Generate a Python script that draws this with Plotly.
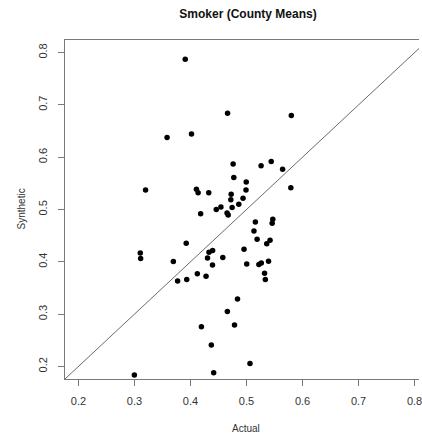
import plotly.graph_objects as go

actual = [0.3906, 0.4662, 0.3582, 0.4018, 0.4761, 0.4773, 0.3198, 0.4106, 0.4136, 0.4326,
          0.4726, 0.4720, 0.4743, 0.4862, 0.4938, 0.4543, 0.4460, 0.4653, 0.4673, 0.4181,
          0.5800, 0.5260, 0.5441, 0.5644, 0.4995, 0.4991, 0.5791, 0.5158, 0.5469, 0.5458,
          0.5133, 0.5189, 0.5420, 0.5361, 0.4956, 0.5004, 0.5221, 0.5264, 0.5393, 0.5322,
          0.5336, 0.3924, 0.3104, 0.3110, 0.3694, 0.4331, 0.4395, 0.4304, 0.4577, 0.4393,
          0.4122, 0.4278, 0.3770, 0.3933, 0.4839, 0.4658, 0.4195, 0.4786, 0.4372, 0.2998,
          0.4414, 0.5062]
synthetic = [0.7872, 0.6842, 0.6378, 0.6441, 0.5868, 0.5611, 0.5372, 0.5386, 0.5319, 0.5319,
             0.5290, 0.5185, 0.5038, 0.5099, 0.5216, 0.5048, 0.5000, 0.4933, 0.4895, 0.4920,
             0.6798, 0.5836, 0.5916, 0.5767, 0.5525, 0.5372, 0.5416, 0.4761, 0.4815, 0.4737,
             0.4590, 0.4431, 0.4414, 0.4347, 0.4240, 0.3960, 0.3947, 0.3975, 0.4010, 0.3782,
             0.3664, 0.4355, 0.4170, 0.4061, 0.4008, 0.4183, 0.4214, 0.4074, 0.4084, 0.3941,
             0.3773, 0.3725, 0.3635, 0.3664, 0.3288, 0.3048, 0.2758, 0.2792, 0.2408, 0.1836,
             0.1880, 0.2057]
tick_vals = [0.2, 0.3, 0.4, 0.5, 0.6, 0.7, 0.8]
tick_text = ["0.2", "0.3", "0.4", "0.5", "0.6", "0.7", "0.8"]
diag = [0.0, 1.0]

FONT = "Liberation Sans, Arial, sans-serif"
AX = "#7a7a7a"

fig = go.Figure()
fig.add_trace(go.Scatter(x=diag, y=diag, mode="lines",
                         line=dict(color="#6a6a6a", width=1), hoverinfo="skip"))
fig.add_trace(go.Scatter(x=actual, y=synthetic, mode="markers",
                         marker=dict(color="black", size=5.5, line=dict(width=0))))

fig.update_layout(
    width=422, height=435,
    margin=dict(l=65, r=0, t=40, b=56),
    paper_bgcolor="white", plot_bgcolor="white",
    showlegend=False,
    font=dict(family=FONT, color="#333333", size=11),
    title=dict(text="<b>Smoker (County Means)</b>", font=dict(size=12, color="#111111", family=FONT),
               x=248/422, xref="container", xanchor="center",
               y=1-14/435, yref="container", yanchor="middle"),
    xaxis=dict(range=[0.176, 0.8079], showgrid=False, zeroline=False,
               showline=True, linecolor=AX, linewidth=1.3, mirror=True,
               ticks="outside", ticklen=6, tickcolor=AX, tickwidth=1.2,
               tickvals=tick_vals, ticktext=tick_text, ticklabelstandoff=6,
               ticklabeloverflow="allow",
               tickfont=dict(size=11, color="#333333")),
    yaxis=dict(range=[0.176, 0.824], showgrid=False, zeroline=False,
               showline=True, linecolor=AX, linewidth=1.3, mirror=False,
               ticks="outside", ticklen=6, tickcolor=AX, tickwidth=1.2,
               tickvals=tick_vals, ticktext=tick_text, tickangle=-90, ticklabelstandoff=6,
               ticklabeloverflow="allow",
               tickfont=dict(size=11, color="#333333")),
    annotations=[
        dict(text="Actual", xref="paper", yref="paper", x=(248-65)/357, y=0,
             xanchor="center", yanchor="middle", yshift=-49, showarrow=False,
             font=dict(size=10, color="#333333", family=FONT)),
        dict(text="Synthetic", xref="paper", yref="paper", x=0, y=0.5,
             xanchor="center", yanchor="middle", xshift=-44, textangle=-90, showarrow=False,
             font=dict(size=10, color="#333333", family=FONT)),
    ],
)

fig.write_html("out.html")
